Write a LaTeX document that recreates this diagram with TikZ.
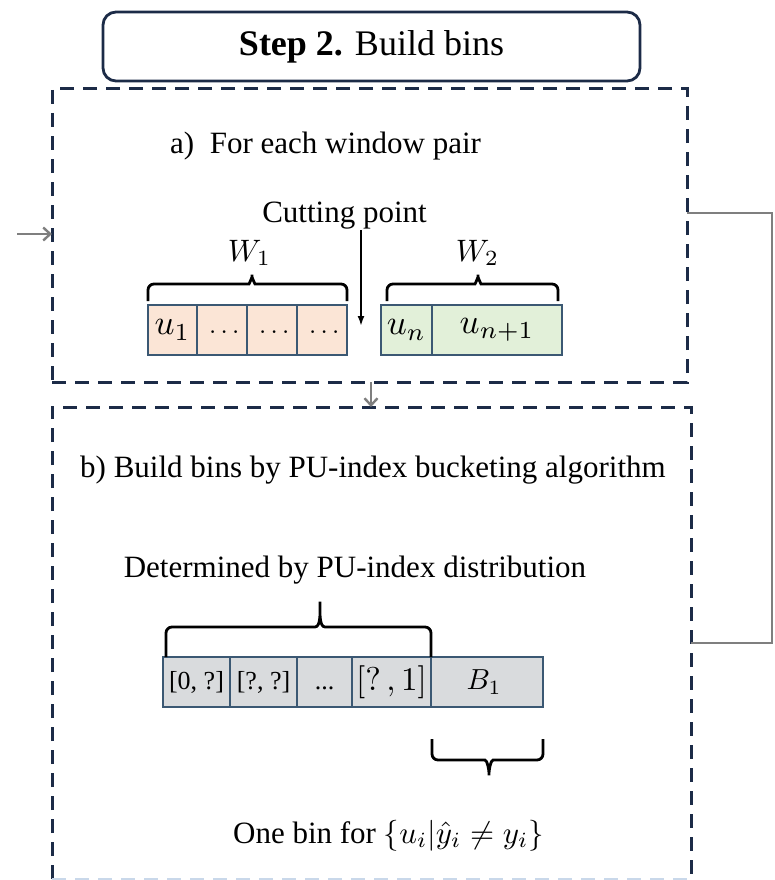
\documentclass[tikz,border=0pt]{standalone}
\usepackage{fontspec}
\setmainfont{Liberation Serif}
\usetikzlibrary{arrows.meta}

\definecolor{navy}{HTML}{1C2B47}
\definecolor{cellline}{HTML}{3B5873}
\definecolor{peach}{HTML}{FBE5D6}
\definecolor{mint}{HTML}{E2F0D9}
\definecolor{bingray}{HTML}{D9DBDD}
\definecolor{linkgray}{HTML}{7F7F7F}
\definecolor{paleedge}{HTML}{C9D8EA}

% math set at 10pt and magnified, so that the letters stay sharp at large sizes
\newcommand\mathat[2]{\scalebox{#1}{\fontsize{10}{12}\selectfont$#2$}}

\begin{document}
\begin{tikzpicture}[x=1pt,y=-1pt,
  body/.style={inner sep=0pt, font=\fontsize{31}{37}\selectfont},
  titlebox/.style={draw=navy, line width=2.8pt, rounded corners=13pt,
    minimum width=537pt, minimum height=69pt, inner sep=0pt,
    font=\fontsize{36}{43}\selectfont},
  frame/.style={draw=navy, line width=3pt, dash pattern=on 14pt off 9pt},
  cell/.style={draw=cellline, line width=2.4pt, minimum height=50pt,
    inner sep=0pt, font=\fontsize{32}{38}\selectfont},
  wone/.style={cell, fill=peach},
  wtwo/.style={cell, fill=mint},
  bin/.style={cell, fill=bingray},
  smalltxt/.style={font=\fontsize{26}{30}\selectfont},
  link/.style={draw=linkgray, line width=2.4pt},
  barb/.style={-{Straight Barb[length=7pt,width=13pt]}},
  curly/.style={draw=black, line width=2.8pt, rounded corners=6pt},
]
\useasboundingbox (0,0) rectangle (774,880);

% heading
\node[titlebox] (title) at (371.5,46.5) {\raisebox{-5pt}{\textbf{Step 2.} Build bins}};

% dashed frames of the two sub-steps
\node[frame, outer sep=0pt, minimum width=635pt, minimum height=293pt] (boxA) at (369.5,235.5) {};
\node[outer sep=0pt, inner sep=0pt, minimum width=639pt, minimum height=472pt] (boxB) at (371.5,643) {};
\draw[frame] (boxB.south west) -- (boxB.north west) -- (boxB.north east) -- (boxB.south east);
\draw[frame, draw=paleedge] (boxB.south west) -- (boxB.south east);

% part a)
\node[body, anchor=base west] (parta) at (170,153) {a)\ \ For each window pair};
\node[body, anchor=base] (cutlabel) at (344.5,222.5) {Cutting point};
\coordinate (cuttop) at (361,230);
\coordinate (cutbot) at (361,326);
\draw[line width=2.2pt, -{Latex[length=10pt,width=7pt]}] (cuttop) -- (cutbot);

\node[wone, minimum width=49pt] (a1) at (172.5,330) {\mathat{3.5}{u_1}};
\node[wone, minimum width=50pt] (a2) at (222,330) {\mathat{2.6}{\vphantom{u_1}\ldots}};
\node[wone, minimum width=50pt] (a3) at (272,330) {\mathat{2.6}{\vphantom{u_1}\ldots}};
\node[wone, minimum width=50pt] (a4) at (322,330) {\mathat{2.6}{\vphantom{u_1}\ldots}};
\node[wtwo, minimum width=51pt] (b1) at (406.5,330) {\mathat{3.5}{u_n}};
\node[wtwo, minimum width=130pt] (b2) at (497,330) {\mathat{3.5}{u_{n+1}}};

\node[anchor=base, inner sep=0pt] (wonelabel) at (249.5,261) {\mathat{3.1}{W_1}};
\node[anchor=base, inner sep=0pt] (wtwolabel) at (477.5,261) {\mathat{3.1}{W_2}};

% braces over the two windows
\draw[curly] (148,301) -- (148,284) -- (243,284) to[out=0,in=-90] (252,271)
  to[out=-90,in=180] (261,284) -- (347,284) -- (347,301);
\draw[curly] (387,301) -- (387,284) -- (469,284) to[out=0,in=-90] (478,271)
  to[out=-90,in=180] (487,284) -- (558,284) -- (558,301);

% part b)
\node[body, anchor=base west] (partb) at (80,477) {b) Build bins by PU-index bucketing algorithm};
\node[body, anchor=base] (detlabel) at (355,577) {Determined by PU-index distribution};

\node[bin, minimum width=67pt, smalltxt] (r1) at (196.5,682) {[0, ?]};
\node[bin, minimum width=67pt, smalltxt] (r2) at (263.5,682) {[?, ?]};
\node[bin, minimum width=55pt, smalltxt] (r3) at (324.5,682) {\vphantom{[0]}...};
\node[bin, minimum width=79pt] (r4) at (391.5,682) {\mathat{3.3}{[?\,,1]}};
\node[bin, minimum width=112pt] (r5) at (487,682) {\hspace{-6pt}\mathat{2.9}{B_1}};

% brace over the PU-index bins
\draw[curly] (166,657) -- (166,627) -- (309,627) to[out=0,in=-90] (320,598)
  to[out=-90,in=180] (331,627) -- (431,627) -- (431,657);
% brace under the extra bin
\draw[curly] (432,739) -- (432,760) -- (479,760) to[out=0,in=90] (489,779)
  to[out=90,in=180] (499,760) -- (543,760) -- (543,739);

\node[body, anchor=base] (onebin) at (388.5,843) {One bin for \mathat{3.1}{\{u_i|\hat{y}_i\neq y_i\}}};

% flow connectors
\coordinate (inflow) at (17,234);
\draw[link, barb] (inflow) -- (inflow -| boxA.west);
\coordinate (midx) at (371,0);
\draw[link, barb] (boxA.south -| midx) -- (boxB.north -| midx);
\coordinate (loopA) at (772,213);
\coordinate (loopB) at (772,643);
\draw[link] (loopA -| boxA.east) -- (loopA) -- (loopB) -- (loopB -| boxB.east);
\end{tikzpicture}
\end{document}
